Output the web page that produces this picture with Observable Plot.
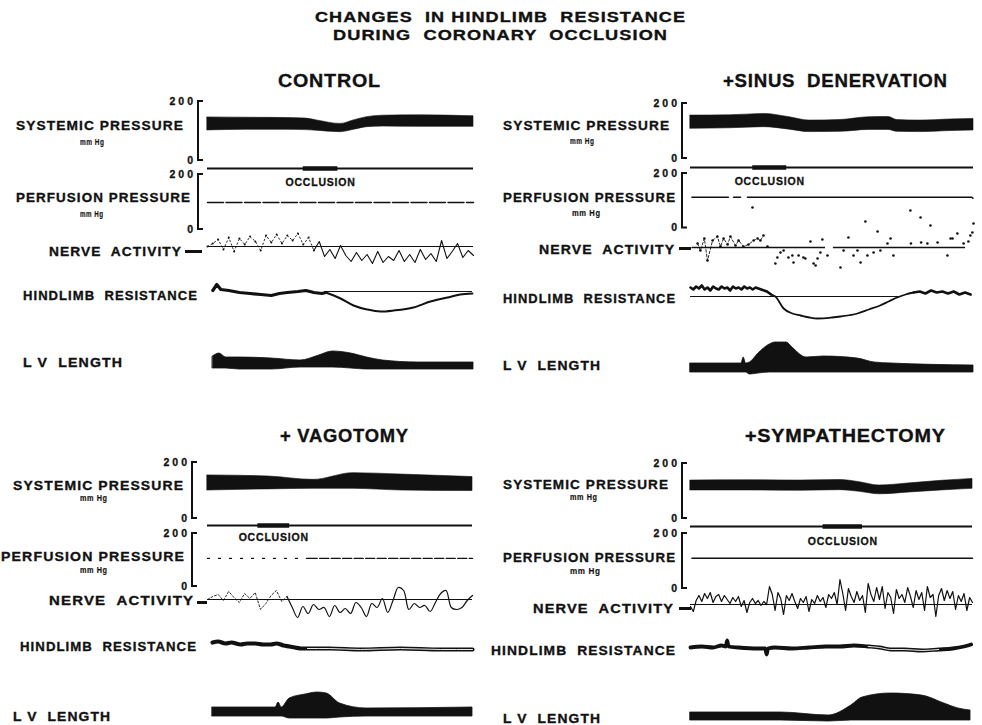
<!DOCTYPE html>
<html>
<head>
<meta charset="utf-8">
<script src="https://cdn.jsdelivr.net/npm/d3@7"></script>
<script src="https://cdn.jsdelivr.net/npm/@observablehq/plot@0.6"></script>
<style>
  html, body { margin: 0; padding: 0; background: #fff; }
  #fig { position: relative; width: 982px; height: 725px; overflow: hidden; background: #fff;
         font-family: "Liberation Sans", Arial, Helvetica, sans-serif; font-weight: bold; color: #111; }
  .lbl { position: absolute; white-space: pre; line-height: 1; transform-origin: 0 50%; -webkit-text-stroke: 0.35px #111; }
  .dash { position: absolute; background: #111; }
</style>
</head>
<body>
<div id="fig"></div>
<script>
// ================= DATA (time axis = % of the recording shown) =================
const titleLines = ["CHANGES  IN HINDLIMB  RESISTANCE", "DURING  CORONARY  OCCLUSION"];
const panelTitles = ["CONTROL", "+SINUS  DENERVATION", "+ VAGOTOMY", "+SYMPATHECTOMY"];
const trackLabels = ["SYSTEMIC PRESSURE", "mm Hg", "PERFUSION PRESSURE", "mm Hg", "NERVE  ACTIVITY", "HINDLIMB  RESISTANCE", "L V  LENGTH"];
const eventLabel = "OCCLUSION";
const pressureTicks = [0, 200];

// systemic pressure band: [time, systolic, diastolic] (mm Hg)
const controlSystemic = [[0,146,102],[15,145,104],[30,144,104],[37,142,103],[41,136,101],[50,124,96],[55,136,104],[60,147,113],[66,152,115],[80,153,114],[100,150,114]];
const sinusSystemic = [[0,156,108],[14,157,110],[26,162,114],[35,150,105],[42,138,96],[53,140,97],[63,150,104],[70,151,104],[73,140,97],[81,138,96],[92,142,100],[100,144,102]];
const vagotomySystemic = [[0,154,100],[23,150,104],[40,138,106],[55,162,106],[73,157,100],[100,148,98]];
const sympSystemic = [[0,138,102],[21,139,102],[39,138,101],[53,140,103],[60,132,97],[67,120,88],[78,128,95],[89,137,102],[100,144,108]];

// coronary occlusion: [start, end]
const controlOcclusion = [36, 49];
const sinusOcclusion = [22, 34];
const vagotomyOcclusion = [19, 31];
const sympOcclusion = [47, 61];

// hindlimb perfusion pressure: [time, mm Hg] (null = pen gap)
const controlPerfusion = [[0,98],[100,98]];
const sinusPerfusion = [[0.5,113],[13.4,113],[14.3,null],[15.2,113],[17.7,113],[18.9,null],[20.1,113],[99.4,113],[99.8,109]];
const vagotomyPerfusion = [[0,106],[38,106],[100,106]];
const sympPerfusion = [[0.5,110],[100,110]];

// integrated nerve activity (arbitrary units, 0 = baseline)
const controlNerveStep = 2;
const controlNerve = [0,3,7,-3,9,-5,8,2,10,5,-4,11,4,12,3,11,6,13,2,9,-4,5,-10,-3,-12,1,-9,-15,-6,-14,-8,-17,-5,-16,-10,-14,-4,-15,-8,-16,-3,-13,-7,-15,6,-12,-5,3,-11,-4,-9];
const sinusNerve = [[2.5,4],[3.5,-3],[4.9,9],[6,-13],[7.8,7],[9.5,11],[10.6,1],[11.7,9],[13.1,3],[14.1,11],[15.9,2],[17,7],[18.7,1],[20.5,3],[21.9,40],[22.3,7],[23.7,9],[24.7,7],[25.8,12],[27.2,1],[30,-16],[30.7,-10],[31.8,-5],[32.9,-3],[34.6,-10],[36,-8],[36.4,-15],[38.2,-8],[39.9,-10],[40.6,-11],[42.4,6],[43.5,-16],[44.2,-18],[44.9,-11],[45.9,-5],[46.6,8],[48.4,-8],[53,-20],[54.1,-3],[55.8,10],[57.6,-8],[59,-3],[60.1,-15],[61.8,26],[62.5,-8],[64.7,-5],[66.1,16],[67.1,-3],[69.6,4],[70.7,9],[71.7,-8],[77.7,37],[77.9,4],[81.3,30],[81.5,5],[83.7,4],[84.8,22],[87.3,5],[90.8,-8],[91.9,9],[92.6,9],[94.3,14],[96.5,4],[98.2,6],[98.9,12],[99.6,15],[100,24]];
const sinusNerveBaseline = [[0.5,47.7],[50.5,97.2]];
const vagotomyNerveStep = 2;
const vagotomyNerve = [0,3,5,-1,8,2,-3,6,1,7,-10,-4,4,9,-2,3,-8,-18,-7,-14,-5,-10,-8,-17,-6,-13,-9,-14,-3,-8,-17,-4,-8,1,-13,-1,12,9,-10,-4,-8,-6,-12,-3,6,9,-8,-10,-8,-1,4];
const sympNerveStep = 1;
const sympNerve = [-2,-7,4,9,3,11,6,12,2,8, 10,3,9,5,1,7,3,8,-2,4, -8,2,6,1,4,-1,3,0,18,10, -6,12,6,-10,9,4,11,3,-4,6, 2,8,-7,5,1,9,3,7,-3,10, 6,12,0,25,11,-6,16,8,2,13, 4,9,-8,21,10,3,17,5,18,-4, 12,7,-9,15,6,10,2,17,8,-3, 14,5,12,-6,18,7,10,-12,9,16, 4,14,6,13,-5,9,3,11,-6,7, 2];

// hindlimb resistance (arbitrary units): [time, value]
const controlHindlimb = [[2,1],[3.5,7],[5,2],[8,1],[12,-1],[16,-2],[20,-3],[24,-4],[27,-2],[30,-1],[34,0],[37,1],[40,-1],[43,-2],[44.5,-1],[50,-7],[54.9,-14],[60,-18],[65,-20],[70,-19],[77.4,-16],[83.8,-10],[90.2,-6],[95,-3],[99.6,-2]];
const controlHindRef = [44, 99.6];
const sinusHindlimb = [[0,9],[1,7],[2,10],[3,8],[4,11],[5,7],[6,9],[7,6],[8,10],[9,8],[10,7],[11,10],[12,8],[13,9],[14,6],[15,10],[16,8],[17,9],[18,7],[19,10],[20,8],[21,9],[22,7],[23,9],[24,8],[25,7],[26,6],[27,5],[28.5,2],[30,0],[32.9,-12],[36,-17],[38.9,-19],[42,-21],[44.9,-22],[50,-21],[53,-20],[59,-17],[63,-13],[67,-9],[70,-5],[73,-1],[76,2],[78.8,4],[81,5],[83,3],[85,6],[87,4],[89,5],[91,3],[93,5],[95,2],[97,4],[99,2]];
const sinusHindRef = [0, 74];
const vagotomyHindlimb = [[1.9,8],[4,9],[6.8,7],[9,8],[12.5,6],[15,7],[18,7],[21,6],[23.8,6],[26,7],[28.7,5],[31,4],[33,3],[35.5,2],[37.7,2],[46,2],[57.7,1],[72.8,2],[88,1],[100,1]];
const sympHindlimb = [[0,3],[4,4],[8,3],[11,5],[12.5,4],[13,10],[13.5,4],[17,3],[24,2],[26.5,2],[27,-4],[27.5,2],[30,3],[36,2],[42,3],[48,4],[53,4],[58,5],[63,4],[67,3],[71,1],[76,1],[82,0],[88,1],[93,2],[97,4],[99.5,6]];

// LV length band (arbitrary units): [time, upper, lower]
const controlLV = [[2,16,4],[4.5,19,4],[7,15,4],[12,15,3],[24,14,3],[35,12,5],[42,17,5],[47,21,5],[54,19,4],[60,15,3],[66,12,3],[79,10,3],[100,10,3]];
const sinusLV = [[0,12,3],[10,12,3],[18,12,3],[18.8,18,3],[19.6,12,3],[21,13,1],[24,22,2],[28,31,3],[30,33,3],[34,33,3],[36,28,3],[41,18,3],[47,19,3],[59,17,3],[65,13,3],[71,12,3],[100,10,3]];
const vagotomyLV = [[1.9,13,4],[16,13,4],[25.7,13,4],[26.8,18,4],[28,13,4],[31,22,2],[37,26,2],[41.5,28,2],[45,27,2],[50,17,3],[60,12,4],[100,13,4]];
const sympLV = [[0,10,2],[32,10,2],[49,7,1],[57,17,2],[61,25,2],[71,29,2],[82,27,2],[90,19,2],[95,14,2],[99.3,12,2]];

// ================= LAYOUT (page pixels) =================
const INK = "#111";
const layout = [
  {x0:0, w:490, left:207, right:473, bx:198, sys:[160,101], evt:168, occDy:14, perf:[229,174], nerve:246, hind:291, lv:372,
   title:[278,380,81], dash:[185,202,251],
   labels:[[16,183,125.5,13.5],[80,104,142,8.5],[16,190,198,13.5],[80,103,214,8.5],[49,181,252,13.5],[23,197,295.5,13.5],[23,122,363,13.5]]},
  {x0:490, w:492, left:690, right:973, bx:682, sys:[158,103], evt:166.5, occDy:14.5, perf:[227.5,173], nerve:247, hind:296, lv:375,
   title:[723,947,81], dash:[679,691,248.5],
   labels:[[503,669,126,13.5],[570,594,141,8.5],[503,675,198,13.5],[572,600,213,8.5],[539,674,249.5,13.5],[503,675,299,13.5],[503,600,366,13.5]]},
  {x0:0, w:490, left:207, right:472, bx:192, sys:[518,462], evt:525, occDy:12.5, perf:[586,533], nerve:599, hind:650, lv:720,
   title:[280,408,436], dash:[197,207,602],
   labels:[[13,183,485.5,13.5],[80,107,498,8.5],[1,184,557,13.5],[80,107,570.5,8.5],[49,193,601,13.5],[20,196,647,13.5],[13,110,717,13.5]]},
  {x0:490, w:492, left:690, right:972, bx:682, sys:[518,463], evt:525.5, occDy:15.5, perf:[588,533], nerve:604, hind:650, lv:722,
   title:[745,945,436], dash:[679,691,608],
   labels:[[503,668,485,13.5],[570,597,497.5,8.5],[503,675,558,13.5],[570,600,571.5,8.5],[533,673,609,13.5],[491,675,651,13.5],[503,600,719,13.5]]}
];
const titleLayout = [[315,685,17,14.5],[333,667,35,14.5]];

// ================= HELPERS =================
const fig = document.getElementById("fig");
const X = d => d[0], Y = d => d[1];
const series = (vals, step) => vals.map((v, i) => [i * step, v]);

// text fitted to its measured extent: a little tracking, then horizontal stretch
function label(text, x1, x2, yc, fs, track = 0.08) {
  const el = document.createElement("div");
  el.className = "lbl";
  el.textContent = text;
  el.style.fontSize = fs + "px";
  el.style.letterSpacing = track + "em";
  el.style.left = x1 + "px";
  el.style.top = (yc - 0.49 * fs) + "px";
  if (fs < 10) el.style.webkitTextStroke = "0.15px #111";
  fig.appendChild(el);
  const w0 = el.getBoundingClientRect().width - track * fs; // drop trailing tracking
  el.style.transform = `scaleX(${(x2 - x1) / w0})`;
}

function track(L, [yLo, yHi], domain, marks, extraStyle = "") {
  const pad = 4;
  const svg = Plot.plot({
    width: L.w,
    height: yLo - yHi + 2 * pad,
    marginLeft: L.left - L.x0,
    marginRight: L.x0 + L.w - L.right,
    marginTop: pad,
    marginBottom: pad,
    x: {domain: [0, 100], axis: null},
    y: {domain, axis: null},
    style: `position:absolute;left:${L.x0}px;top:${yHi - pad}px;background:transparent;overflow:visible;font-family:'Liberation Sans',Arial,sans-serif;font-weight:bold;color:${INK};${extraStyle}`,
    marks
  });
  fig.appendChild(svg);
}

function bracketMark(L) {
  return (index, scales, values, dims) => {
    const x = dims.marginLeft + (L.bx - L.left);
    const y0 = scales.y(0), y1 = scales.y(200);
    const p = document.createElementNS("http://www.w3.org/2000/svg", "path");
    p.setAttribute("d", `M${x + 5},${y1}H${x}V${y0}H${x + 5}`);
    p.setAttribute("fill", "none");
    p.setAttribute("stroke", INK);
    p.setAttribute("stroke-width", "2");
    return p;
  };
}
function tickLabels(L) {
  return Plot.text(pressureTicks, {y: d => d, text: d => String(d), frameAnchor: "left", textAnchor: "end",
    dx: L.bx - L.left - 2.5, fontSize: 10.5, fontWeight: "bold", fill: INK, stroke: INK, strokeWidth: 0.3});
}

function buildPanel(L, p, title) {
  label(title, L.title[0], L.title[1], L.title[2], 18.5, 0.04);
  // systemic pressure
  track(L, L.sys, [0, 200], [
    Plot.areaY(p.systemic, {x: X, y1: d => d[2], y2: d => d[1], fill: INK, stroke: INK, strokeWidth: 0.6, curve: "monotone-x"}),
    bracketMark(L), tickLabels(L)
  ], "letter-spacing:3px;");
  // occlusion event marker
  track(L, [L.evt + 10, L.evt - 10], [-1, 1], [
    Plot.ruleY([0], {stroke: INK, strokeWidth: 1.8}),
    Plot.ruleY([p.occlusion], {y: () => 0, x1: d => d[0], x2: d => d[1], stroke: INK, strokeWidth: 4.5}),
    Plot.text([p.occlusion], {x: d => (d[0] + d[1]) / 2, y: () => 0, dy: L.occDy, text: () => eventLabel, fontSize: 10.5, fontWeight: "bold", fill: INK, stroke: INK, strokeWidth: 0.3})
  ], "letter-spacing:0.8px;");
  // perfusion pressure
  track(L, L.perf, [0, 200], [...p.perfusion, bracketMark(L), tickLabels(L)], "letter-spacing:3px;");
  // nerve activity
  track(L, [L.nerve + 25, L.nerve - 45], [-25, 45], p.nerve);
  // hindlimb resistance
  track(L, [L.hind + 25, L.hind - 15], [-25, 15], p.hind);
  // LV length
  track(L, [L.lv, L.lv - 40], [0, 40], [
    Plot.areaY(p.lv, {x: X, y1: d => d[2], y2: d => d[1], fill: INK, stroke: INK, strokeWidth: 0.8, curve: "monotone-x"})
  ]);
  L.labels.forEach(([x1, x2, yc, fs], i) => label(trackLabels[i], x1, x2, yc, fs));
  const d = document.createElement("div");
  d.className = "dash";
  Object.assign(d.style, {left: L.dash[0] + "px", top: (L.dash[2] - 1.5) + "px", width: (L.dash[1] - L.dash[0]) + "px", height: "3px"});
  fig.appendChild(d);
}

// ================= BUILD =================
titleLines.forEach((t, i) => label(t, ...titleLayout[i], 0.06));

const ctlN = series(controlNerve, controlNerveStep);
buildPanel(layout[0], {
  systemic: controlSystemic, occlusion: controlOcclusion, lv: controlLV,
  perfusion: [Plot.line(controlPerfusion, {x: X, y: Y, stroke: INK, strokeWidth: 1.4, strokeDasharray: "16,2.5"})],
  nerve: [
    Plot.ruleY([0], {stroke: INK, strokeWidth: 1.2}),
    Plot.line(ctlN.filter(d => d[0] <= 40), {x: X, y: Y, stroke: INK, strokeWidth: 0.9, strokeDasharray: "1.5,2.5"}),
    Plot.dot(ctlN.filter(d => d[0] <= 40), {x: X, y: Y, r: 1, fill: INK}),
    Plot.line(ctlN.filter(d => d[0] >= 40), {x: X, y: Y, stroke: INK, strokeWidth: 1.1})
  ],
  hind: [
    Plot.ruleY([controlHindRef], {y: () => 0, x1: d => d[0], x2: d => d[1], stroke: INK, strokeWidth: 1.2}),
    Plot.line(controlHindlimb.filter(d => d[0] <= 45), {x: X, y: Y, stroke: INK, strokeWidth: 3.2}),
    Plot.line(controlHindlimb.filter(d => d[0] >= 44), {x: X, y: Y, stroke: INK, strokeWidth: 2, curve: "monotone-x"})
  ]
}, panelTitles[0]);

buildPanel(layout[1], {
  systemic: sinusSystemic, occlusion: sinusOcclusion, lv: sinusLV,
  perfusion: [Plot.line(sinusPerfusion, {x: X, y: Y, stroke: INK, strokeWidth: 1.5})],
  nerve: [
    Plot.ruleY(sinusNerveBaseline, {y: () => 0, x1: d => d[0], x2: d => d[1], stroke: INK, strokeWidth: 1.3}),
    Plot.line(sinusNerve.filter(d => d[0] < 27 && d[1] < 30), {x: X, y: Y, stroke: INK, strokeWidth: 0.9, strokeDasharray: "2.5,2"}),
    Plot.dot(sinusNerve, {x: X, y: Y, r: 1.3, fill: INK})
  ],
  hind: [
    Plot.ruleY([sinusHindRef], {y: () => 0, x1: d => d[0], x2: d => d[1], stroke: INK, strokeWidth: 1.2}),
    Plot.line(sinusHindlimb.filter(d => d[0] <= 28.5), {x: X, y: Y, stroke: INK, strokeWidth: 2.6}),
    Plot.line(sinusHindlimb.filter(d => d[0] >= 27 && d[0] <= 79), {x: X, y: Y, stroke: INK, strokeWidth: 1.8, curve: "monotone-x"}),
    Plot.line(sinusHindlimb.filter(d => d[0] >= 78.8), {x: X, y: Y, stroke: INK, strokeWidth: 2.6})
  ]
}, panelTitles[1]);

const vagN = series(vagotomyNerve, vagotomyNerveStep);
buildPanel(layout[2], {
  systemic: vagotomySystemic, occlusion: vagotomyOcclusion, lv: vagotomyLV,
  perfusion: [
    Plot.line(vagotomyPerfusion.slice(0, 2), {x: X, y: Y, stroke: INK, strokeWidth: 1.3, strokeDasharray: "2,9"}),
    Plot.line(vagotomyPerfusion.slice(1), {x: X, y: Y, stroke: INK, strokeWidth: 1.4, strokeDasharray: "9,2.5"})
  ],
  nerve: [
    Plot.ruleY([0], {stroke: INK, strokeWidth: 1.2}),
    Plot.line(vagN.filter(d => d[0] <= 30), {x: X, y: Y, stroke: INK, strokeWidth: 0.9, strokeDasharray: "2,2"}),
    Plot.line(vagN.filter(d => d[0] >= 30), {x: X, y: Y, stroke: INK, strokeWidth: 1.2, curve: "catmull-rom"})
  ],
  hind: [
    Plot.line(vagotomyHindlimb, {x: X, y: Y, stroke: INK, strokeWidth: 4.2, curve: "monotone-x"}),
    Plot.line(vagotomyHindlimb.filter(d => d[0] >= 37.7), {x: X, y: Y, stroke: "#fff", strokeWidth: 0.9, curve: "monotone-x"})
  ]
}, panelTitles[2]);

const sympN = series(sympNerve, sympNerveStep);
buildPanel(layout[3], {
  systemic: sympSystemic, occlusion: sympOcclusion, lv: sympLV,
  perfusion: [Plot.line(sympPerfusion, {x: X, y: Y, stroke: INK, strokeWidth: 1.5})],
  nerve: [
    Plot.ruleY([0], {stroke: INK, strokeWidth: 1.2}),
    Plot.line(sympN, {x: X, y: Y, stroke: INK, strokeWidth: 1.2})
  ],
  hind: [
    Plot.line(sympHindlimb, {x: X, y: Y, stroke: INK, strokeWidth: 3.8, curve: "monotone-x"}),
    Plot.line(sympHindlimb.filter(d => d[0] >= 63 && d[0] <= 88), {x: X, y: Y, stroke: "#fff", strokeWidth: 0.9, curve: "monotone-x"})
  ]
}, panelTitles[3]);
</script>
</body>
</html>
